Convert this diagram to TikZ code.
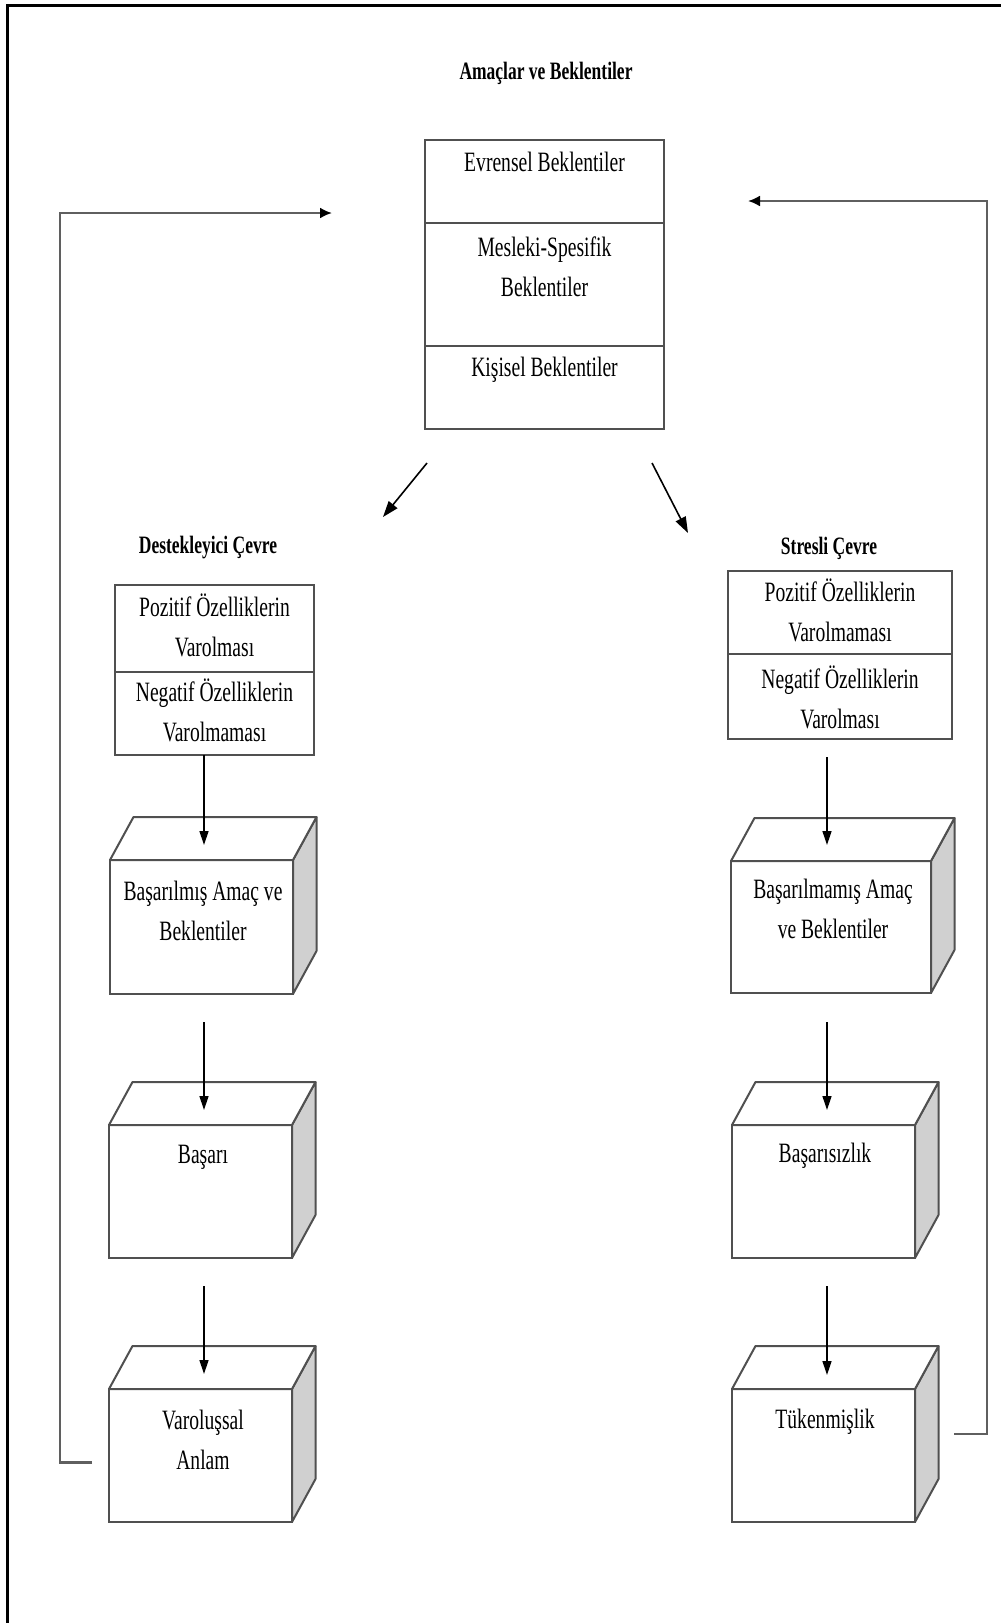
\documentclass[tikz,border=0pt]{standalone}
\usepackage{fontspec}
\setmainfont{Liberation Serif}[FakeStretch=0.7]
\usetikzlibrary{arrows.meta}
\definecolor{edge}{RGB}{80,80,80}
\definecolor{fbline}{RGB}{95,95,95}
\definecolor{sideface}{RGB}{208,208,208}
\tikzset{
  box/.style={draw=edge, line width=2pt, inner sep=0pt, outer sep=0pt, fill=white},
  facet/.style={draw=edge, line width=2pt, line join=round},
  txt/.style={font=\fontsize{28}{40}\selectfont, align=center, inner sep=0pt, text height=21pt, text depth=5pt},
  ttl/.style={font=\bfseries\fontsize{25}{30}\selectfont, inner sep=0pt},
  arr/.style={line width=1.3pt, -{Triangle[length=14pt,width=9pt]}},
  arrdiag/.style={line width=1.6pt, -{Triangle[length=16pt,width=11pt]}},
  fb/.style={draw=fbline, line width=2.2pt, -{Latex[length=12pt,width=11pt,color=black]}}
}
\newcommand\cubebox[4]{%
  \node[box, minimum width=#3pt, minimum height=#4pt] (#1) at (#2) {};
  \filldraw[facet, fill=sideface] (#1.north east) -- ++(23.5,-43) -- ++(0,#4) -- (#1.south east) -- cycle;
  \filldraw[facet, fill=white] (#1.north west) -- ++(23.5,-43) -- ++(#3,0) -- (#1.north east) -- cycle;
}
\begin{document}
\begin{tikzpicture}[x=1pt, y=-1pt]
\useasboundingbox (0,0) rectangle (1001,1623);
% page frame
\draw[line width=3pt] (7.5,1623) -- (7.5,5) -- (1001,5);

% top block
\node[ttl] (title) at (546,73) {Amaçlar ve Beklentiler};
\node[box, minimum width=239pt, minimum height=289pt] (main) at (544.5,284.5) {};
\draw[facet] ([shift={(0,83)}]main.north west) -- ([shift={(0,83)}]main.north east);
\draw[facet] ([shift={(0,206)}]main.north west) -- ([shift={(0,206)}]main.north east);
\node[txt] (m1) at (544.5,163) {Evrensel Beklentiler};
\node[txt] (m2) at (544.5,288) {Mesleki-Spesifik\\Beklentiler};
\node[txt] (m3) at (544.5,368) {Kişisel Beklentiler};

% environment titles
\node[ttl] (ttlL) at (208,548) {Destekleyici Çevre};
\node[ttl] (ttlR) at (829,548) {Stresli Çevre};

% environment boxes
\node[box, minimum width=199pt, minimum height=170pt] (envL) at (214.5,670) {};
\draw[facet] ([shift={(0,87)}]envL.north west) -- ([shift={(0,87)}]envL.north east);
\node[txt] (eL1) at (214.5,648) {Pozitif Özelliklerin\\Varolması};
\node[txt] (eL2) at (214.5,733) {Negatif Özelliklerin\\Varolmaması};

\node[box, minimum width=224pt, minimum height=168pt] (envR) at (840,655) {};
\draw[facet] ([shift={(0,83)}]envR.north west) -- ([shift={(0,83)}]envR.north east);
\node[txt] (eR1) at (840,633) {Pozitif Özelliklerin\\Varolmaması};
\node[txt] (eR2) at (840,720) {Negatif Özelliklerin\\Varolması};

% 3D boxes
\cubebox{b1}{201.5,927}{183}{134}
\cubebox{b2}{200.5,1191.5}{183}{133}
\cubebox{b3}{200.5,1455.5}{183}{133}
\cubebox{b4}{831,927}{200}{132}
\cubebox{b5}{823.5,1191.5}{183}{133}
\cubebox{b6}{823.5,1455.5}{183}{133}

\node[txt] (t1) at (203,932) {Başarılmış Amaç ve\\Beklentiler};
\node[txt] (t2) at (203,1155) {Başarı};
\node[txt] (t3) at (203,1461) {Varoluşsal\\Anlam};
\node[txt] (t4) at (833,930) {Başarılmamış Amaç\\ve Beklentiler};
\node[txt] (t5) at (825,1154) {Başarısızlık};
\node[txt] (t6) at (825,1420) {Tükenmişlik};

% column axes
\coordinate (colL) at (204,0);
\coordinate (colR) at (827,0);

% vertical arrows
\draw[arr, shorten >=15pt] (envL.south -| colL) -- (b1.north -| colL);
\draw[arr, shorten <=28pt, shorten >=15pt] (b1.south -| colL) -- (b2.north -| colL);
\draw[arr, shorten <=28pt, shorten >=15pt] (b2.south -| colL) -- (b3.north -| colL);
\draw[arr, shorten <=18pt, shorten >=16pt] (envR.south -| colR) -- (b4.north -| colR);
\draw[arr, shorten <=29pt, shorten >=15pt] (b4.south -| colR) -- (b5.north -| colR);
\draw[arr, shorten <=28pt, shorten >=14pt] (b5.south -| colR) -- (b6.north -| colR);

% diagonal arrows
\draw[arrdiag] ([shift={(-117.5,34)}]main.south) -- ([shift={(175,-31)}]ttlL.center);
\draw[arrdiag] ([shift={(107.5,34)}]main.south) -- ([shift={(-141,-15)}]ttlR.center);

% feedback loops
\draw[fb] ([shift={(-17,7)}]b3.west) -- ++(-32,0) |- ([shift={(-93,-71.5)}]main.west);
\draw[fb] ([shift={(39,-21.5)}]b6.east) -- ++(33,0) |- ([shift={(84,-83.5)}]main.east);
\end{tikzpicture}
\end{document}
